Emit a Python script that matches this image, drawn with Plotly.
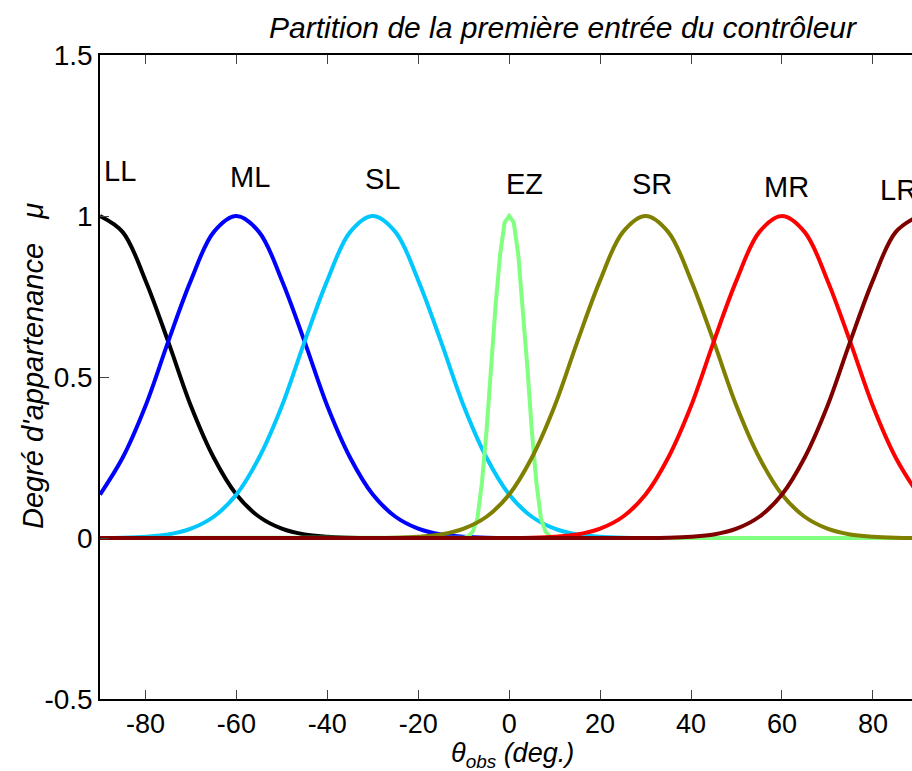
import plotly.graph_objects as go

# x grid for the wide membership functions (deg.)
theta = [-90, -85, -80, -75, -70, -65, -60, -55, -50, -45, -40, -35, -30, -25, -20, -15, -10, -5,
         0, 5, 10, 15, 20, 25, 30, 35, 40, 45, 50, 55, 60, 65, 70, 75, 80, 85, 90]

mu_LL = [1.00, 0.95, 0.80, 0.61, 0.41, 0.25, 0.135, 0.066, 0.029, 0.011, 0.004, 0.001, 0, 0, 0, 0, 0, 0,
         0, 0, 0, 0, 0, 0, 0, 0, 0, 0, 0, 0, 0, 0, 0, 0, 0, 0, 0]
mu_ML = [0.135, 0.25, 0.41, 0.61, 0.80, 0.95, 1.00, 0.95, 0.80, 0.61, 0.41, 0.25, 0.135, 0.066, 0.029, 0.011, 0.004, 0.001,
         0, 0, 0, 0, 0, 0, 0, 0, 0, 0, 0, 0, 0, 0, 0, 0, 0, 0, 0]
mu_SL = [0, 0.001, 0.004, 0.011, 0.029, 0.066, 0.135, 0.25, 0.41, 0.61, 0.80, 0.95, 1.00, 0.95, 0.80, 0.61, 0.41, 0.25,
         0.135, 0.066, 0.029, 0.011, 0.004, 0.001, 0, 0, 0, 0, 0, 0, 0, 0, 0, 0, 0, 0, 0]
mu_SR = [0, 0, 0, 0, 0, 0, 0, 0, 0, 0, 0, 0, 0, 0.001, 0.004, 0.011, 0.029, 0.066,
         0.135, 0.25, 0.41, 0.61, 0.80, 0.95, 1.00, 0.95, 0.80, 0.61, 0.41, 0.25, 0.135, 0.066, 0.029, 0.011, 0.004, 0.001, 0]
mu_MR = [0, 0, 0, 0, 0, 0, 0, 0, 0, 0, 0, 0, 0, 0, 0, 0, 0, 0,
         0, 0.001, 0.004, 0.011, 0.029, 0.066, 0.135, 0.25, 0.41, 0.61, 0.80, 0.95, 1.00, 0.95, 0.80, 0.61, 0.41, 0.25, 0.135]
mu_LR = [0, 0, 0, 0, 0, 0, 0, 0, 0, 0, 0, 0, 0, 0, 0, 0, 0, 0,
         0, 0, 0, 0, 0, 0, 0, 0.001, 0.004, 0.011, 0.029, 0.066, 0.135, 0.25, 0.41, 0.61, 0.80, 0.95, 1.00]

# narrow EZ membership function
theta_EZ = [-90, -20, -12, -11, -10, -9, -8, -7, -6, -5, -4, -3, -2, -1, 0,
            1, 2, 3, 4, 5, 6, 7, 8, 9, 10, 11, 12, 20, 90]
mu_EZ = [0, 0, 0, 0, 0.001, 0.005, 0.02, 0.06, 0.17, 0.33, 0.53, 0.72, 0.88, 0.98, 1.00,
         0.98, 0.88, 0.72, 0.53, 0.33, 0.17, 0.06, 0.02, 0.005, 0.001, 0, 0, 0, 0]

labels = ["LL", "ML", "SL", "EZ", "SR", "MR", "LR"]
label_x = [-85.6, -57.0, -27.8, 3.4, 31.4, 61.1, 85.6]
label_y = [1.14, 1.12, 1.115, 1.10, 1.10, 1.09, 1.08]
colors = ["#000000", "#0000FF", "#00C8FF", "#80FF80", "#808000", "#FF0000", "#800000"]

x_ticks = [-80, -60, -40, -20, 0, 20, 40, 60, 80]
x_ticktext = ["-80", "-60", "-40", "-20", "0", "20", "40", "60", "80"]
y_ticks = [-0.5, 0, 0.5, 1, 1.5]
y_ticktext = ["-0.5", "0", "0.5", "1", "1.5"]

series = [(theta, mu_LL), (theta, mu_ML), (theta, mu_SL), (theta_EZ, mu_EZ),
          (theta, mu_SR), (theta, mu_MR), (theta, mu_LR)]

FONT = "Liberation Sans, Arial"
PLOT_W, PLOT_H, L, T = 812, 644, 100, 55

fig = go.Figure()
for (xs, ys), name, col in zip(series, labels, colors):
    fig.add_trace(go.Scatter(
        x=xs, y=ys, mode="lines", name=name,
        line=dict(color=col, width=4, shape="linear" if name == "EZ" else "spline"),
        showlegend=False,
    ))

for t, lx, ly in zip(labels, label_x, label_y):
    fig.add_annotation(x=lx, y=ly, xref="x", yref="y", text=t, showarrow=False,
                       font=dict(family=FONT, size=29, color="black"))

# title
fig.add_annotation(xref="paper", yref="paper", x=(563 - L) / PLOT_W, y=1 + 28 / PLOT_H,
                   text="<i>Partition de la première entrée du contrôleur</i>",
                   showarrow=False, xanchor="center", yanchor="middle",
                   font=dict(family=FONT, size=30, color="black"))
# x-axis title
fig.add_annotation(xref="paper", yref="paper", x=(512 - L) / PLOT_W, y=-(755 - (T + PLOT_H)) / PLOT_H,
                   text="<i>θ<sub>obs</sub> (deg.)</i>",
                   showarrow=False, xanchor="center", yanchor="middle",
                   font=dict(family=FONT, size=27, color="black"))
# y-axis title
fig.add_annotation(xref="paper", yref="paper", x=(33 - L) / PLOT_W, y=(T + PLOT_H - 366) / PLOT_H,
                   text="<i>Degré d'appartenance   μ</i>", textangle=-90,
                   showarrow=False, xanchor="center", yanchor="middle",
                   font=dict(family=FONT, size=29, color="black"))

fig.update_layout(
    width=912, height=771,
    margin=dict(l=L, r=0, t=T, b=771 - T - PLOT_H),
    paper_bgcolor="white", plot_bgcolor="white",
    font=dict(family=FONT, size=27, color="black"),
    xaxis=dict(
        range=[-90, 88.6], tickvals=x_ticks, ticktext=x_ticktext,
        ticks="inside", ticklen=9, tickwidth=1, tickcolor="#444",
        showline=True, linecolor="black", linewidth=1.5, mirror="ticks",
        showgrid=False, zeroline=False,
    ),
    yaxis=dict(
        range=[-0.5, 1.5], tickvals=y_ticks, ticktext=y_ticktext,
        ticks="inside", ticklen=9, tickwidth=1, tickcolor="#444",
        showline=True, linecolor="black", linewidth=1.5, mirror=False,
        showgrid=False, zeroline=False, ticklabelstandoff=0,
        tickfont=dict(size=28),
    ),
)

fig.write_html("out.html")
